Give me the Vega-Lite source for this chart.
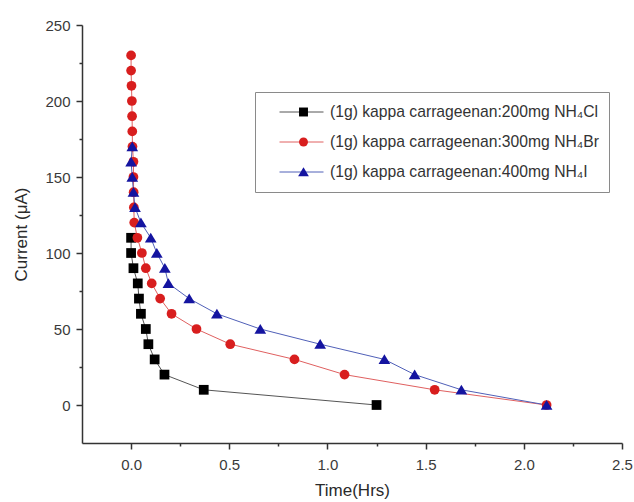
{
  "$schema": "https://vega.github.io/schema/vega-lite/v6.json",
  "autosize": {"type": "none"},
  "width": 540,
  "height": 418,
  "padding": {"left": 82, "top": 25, "right": 12, "bottom": 59},
  "background": "white",
  "config": {
    "view": {"stroke": null},
    "font": "Liberation Sans",
    "axis": {"grid": false, "labelFont": "Liberation Sans", "titleFont": "Liberation Sans", "titleFontWeight": "normal", "labelColor": "#3a3a3a", "titleColor": "#2a2a2a", "domainColor": "#333", "tickColor": "#333", "domainWidth": 1.5, "tickWidth": 1.5},
    "legend": {"labelFont": "Liberation Sans"}
  },
  "data": {"values": [
    {"series": "NH4Cl", "label": "(1g) kappa carrageenan:200mg NH₄Cl", "time": 0.0, "current": 110},
    {"series": "NH4Cl", "label": "(1g) kappa carrageenan:200mg NH₄Cl", "time": 0.0, "current": 100},
    {"series": "NH4Cl", "label": "(1g) kappa carrageenan:200mg NH₄Cl", "time": 0.012, "current": 90},
    {"series": "NH4Cl", "label": "(1g) kappa carrageenan:200mg NH₄Cl", "time": 0.034, "current": 80},
    {"series": "NH4Cl", "label": "(1g) kappa carrageenan:200mg NH₄Cl", "time": 0.04, "current": 70},
    {"series": "NH4Cl", "label": "(1g) kappa carrageenan:200mg NH₄Cl", "time": 0.05, "current": 60},
    {"series": "NH4Cl", "label": "(1g) kappa carrageenan:200mg NH₄Cl", "time": 0.075, "current": 50},
    {"series": "NH4Cl", "label": "(1g) kappa carrageenan:200mg NH₄Cl", "time": 0.088, "current": 40},
    {"series": "NH4Cl", "label": "(1g) kappa carrageenan:200mg NH₄Cl", "time": 0.12, "current": 30},
    {"series": "NH4Cl", "label": "(1g) kappa carrageenan:200mg NH₄Cl", "time": 0.17, "current": 20},
    {"series": "NH4Cl", "label": "(1g) kappa carrageenan:200mg NH₄Cl", "time": 0.37, "current": 10},
    {"series": "NH4Cl", "label": "(1g) kappa carrageenan:200mg NH₄Cl", "time": 1.25, "current": 0},
    {"series": "NH4Br", "label": "(1g) kappa carrageenan:300mg NH₄Br", "time": 0.0, "current": 230},
    {"series": "NH4Br", "label": "(1g) kappa carrageenan:300mg NH₄Br", "time": 0.0, "current": 220},
    {"series": "NH4Br", "label": "(1g) kappa carrageenan:300mg NH₄Br", "time": 0.002, "current": 210},
    {"series": "NH4Br", "label": "(1g) kappa carrageenan:300mg NH₄Br", "time": 0.004, "current": 200},
    {"series": "NH4Br", "label": "(1g) kappa carrageenan:300mg NH₄Br", "time": 0.005, "current": 190},
    {"series": "NH4Br", "label": "(1g) kappa carrageenan:300mg NH₄Br", "time": 0.006, "current": 180},
    {"series": "NH4Br", "label": "(1g) kappa carrageenan:300mg NH₄Br", "time": 0.007, "current": 170},
    {"series": "NH4Br", "label": "(1g) kappa carrageenan:300mg NH₄Br", "time": 0.012, "current": 160},
    {"series": "NH4Br", "label": "(1g) kappa carrageenan:300mg NH₄Br", "time": 0.012, "current": 150},
    {"series": "NH4Br", "label": "(1g) kappa carrageenan:300mg NH₄Br", "time": 0.013, "current": 140},
    {"series": "NH4Br", "label": "(1g) kappa carrageenan:300mg NH₄Br", "time": 0.014, "current": 130},
    {"series": "NH4Br", "label": "(1g) kappa carrageenan:300mg NH₄Br", "time": 0.016, "current": 120},
    {"series": "NH4Br", "label": "(1g) kappa carrageenan:300mg NH₄Br", "time": 0.032, "current": 110},
    {"series": "NH4Br", "label": "(1g) kappa carrageenan:300mg NH₄Br", "time": 0.055, "current": 100},
    {"series": "NH4Br", "label": "(1g) kappa carrageenan:300mg NH₄Br", "time": 0.075, "current": 90},
    {"series": "NH4Br", "label": "(1g) kappa carrageenan:300mg NH₄Br", "time": 0.105, "current": 80},
    {"series": "NH4Br", "label": "(1g) kappa carrageenan:300mg NH₄Br", "time": 0.148, "current": 70},
    {"series": "NH4Br", "label": "(1g) kappa carrageenan:300mg NH₄Br", "time": 0.206, "current": 60},
    {"series": "NH4Br", "label": "(1g) kappa carrageenan:300mg NH₄Br", "time": 0.333, "current": 50},
    {"series": "NH4Br", "label": "(1g) kappa carrageenan:300mg NH₄Br", "time": 0.505, "current": 40},
    {"series": "NH4Br", "label": "(1g) kappa carrageenan:300mg NH₄Br", "time": 0.832, "current": 30},
    {"series": "NH4Br", "label": "(1g) kappa carrageenan:300mg NH₄Br", "time": 1.087, "current": 20},
    {"series": "NH4Br", "label": "(1g) kappa carrageenan:300mg NH₄Br", "time": 1.546, "current": 10},
    {"series": "NH4Br", "label": "(1g) kappa carrageenan:300mg NH₄Br", "time": 2.116, "current": 0},
    {"series": "NH4I", "label": "(1g) kappa carrageenan:400mg NH₄I", "time": 0.006, "current": 170},
    {"series": "NH4I", "label": "(1g) kappa carrageenan:400mg NH₄I", "time": 0.0, "current": 160},
    {"series": "NH4I", "label": "(1g) kappa carrageenan:400mg NH₄I", "time": 0.006, "current": 150},
    {"series": "NH4I", "label": "(1g) kappa carrageenan:400mg NH₄I", "time": 0.012, "current": 140},
    {"series": "NH4I", "label": "(1g) kappa carrageenan:400mg NH₄I", "time": 0.02, "current": 130},
    {"series": "NH4I", "label": "(1g) kappa carrageenan:400mg NH₄I", "time": 0.05, "current": 120},
    {"series": "NH4I", "label": "(1g) kappa carrageenan:400mg NH₄I", "time": 0.1, "current": 110},
    {"series": "NH4I", "label": "(1g) kappa carrageenan:400mg NH₄I", "time": 0.131, "current": 100},
    {"series": "NH4I", "label": "(1g) kappa carrageenan:400mg NH₄I", "time": 0.172, "current": 90},
    {"series": "NH4I", "label": "(1g) kappa carrageenan:400mg NH₄I", "time": 0.19, "current": 80},
    {"series": "NH4I", "label": "(1g) kappa carrageenan:400mg NH₄I", "time": 0.296, "current": 70},
    {"series": "NH4I", "label": "(1g) kappa carrageenan:400mg NH₄I", "time": 0.437, "current": 60},
    {"series": "NH4I", "label": "(1g) kappa carrageenan:400mg NH₄I", "time": 0.658, "current": 50},
    {"series": "NH4I", "label": "(1g) kappa carrageenan:400mg NH₄I", "time": 0.963, "current": 40},
    {"series": "NH4I", "label": "(1g) kappa carrageenan:400mg NH₄I", "time": 1.29, "current": 30},
    {"series": "NH4I", "label": "(1g) kappa carrageenan:400mg NH₄I", "time": 1.444, "current": 20},
    {"series": "NH4I", "label": "(1g) kappa carrageenan:400mg NH₄I", "time": 1.682, "current": 10},
    {"series": "NH4I", "label": "(1g) kappa carrageenan:400mg NH₄I", "time": 2.116, "current": 0}
  ]},
  "encoding": {
    "x": {"field": "time", "type": "quantitative",
      "scale": {"domain": [-0.25, 2.5], "nice": false, "zero": false},
      "axis": {"title": "Time(Hrs)", "values": [0, 0.25, 0.5, 0.75, 1, 1.25, 1.5, 1.75, 2, 2.25, 2.5],
        "labelExpr": "datum.value % 0.5 === 0 ? format(datum.value, '.1f') : ''",
        "tickSize": {"condition": {"test": "datum.value % 0.5 === 0", "value": 6}, "value": 3},
        "labelFontSize": 15, "labelPadding": 8, "titleFontSize": 17, "titlePadding": 10, "labelFlush": false}},
    "y": {"field": "current", "type": "quantitative",
      "scale": {"domain": [-25, 250], "nice": false, "zero": false},
      "axis": {"title": "Current (μA)", "values": [0, 25, 50, 75, 100, 125, 150, 175, 200, 225, 250],
        "labelExpr": "datum.value % 50 === 0 ? format(datum.value, 'd') : ''",
        "tickSize": {"condition": {"test": "datum.value % 50 === 0", "value": 6}, "value": 3},
        "labelFontSize": 15, "labelPadding": 6, "titleFontSize": 17, "titlePadding": 14, "labelFlush": false}}
  },
  "layer": [
    {
      "mark": {"type": "line", "strokeWidth": 1},
      "encoding": {
        "stroke": {"field": "label", "type": "nominal",
          "scale": {"domain": ["(1g) kappa carrageenan:200mg NH₄Cl", "(1g) kappa carrageenan:300mg NH₄Br", "(1g) kappa carrageenan:400mg NH₄I"],
                    "range": ["#555555", "#e06060", "#5060b8"]},
          "legend": {"orient": "none", "legendX": 173, "legendY": 67, "title": null,
            "symbolType": "stroke", "symbolSize": 1936, "symbolStrokeWidth": 1, "symbolOffset": 14,
            "clipHeight": 20, "rowPadding": 10, "labelOffset": 6, "labelFontSize": 15.7, "labelColor": "#333",
            "labelLimit": 500, "padding": 10, "strokeColor": "#8a8a8a", "fillColor": null}},
        "order": {"field": "current", "type": "quantitative", "sort": "descending"},
        "detail": {"field": "series"}
      }
    },
    {
      "mark": {"type": "point", "filled": true, "opacity": 1, "strokeWidth": 0, "size": 95},
      "encoding": {
        "shape": {"field": "series", "type": "nominal",
          "scale": {"domain": ["NH4Cl", "NH4Br", "NH4I"], "range": ["square", "circle", "M0,-1.05L1.2,0.95L-1.2,0.95Z"]},
          "legend": {"orient": "none", "legendX": 190, "legendY": 67, "title": null,
            "symbolOffset": 14, "clipHeight": 20, "rowPadding": 10, "labelExpr": "''", "labelFontSize": 15,
            "padding": 10, "symbolStrokeWidth": 0, "symbolSize": 80}},
        "fill": {"field": "series", "type": "nominal",
          "scale": {"domain": ["NH4Cl", "NH4Br", "NH4I"], "range": ["#000000", "#d81e1e", "#1414a0"]},
          "legend": {"orient": "none", "legendX": 190, "legendY": 67, "title": null,
            "symbolOffset": 14, "clipHeight": 20, "rowPadding": 10, "labelExpr": "''", "labelFontSize": 15,
            "padding": 10, "symbolStrokeWidth": 0, "symbolSize": 80}}
      }
    }
  ]
}
